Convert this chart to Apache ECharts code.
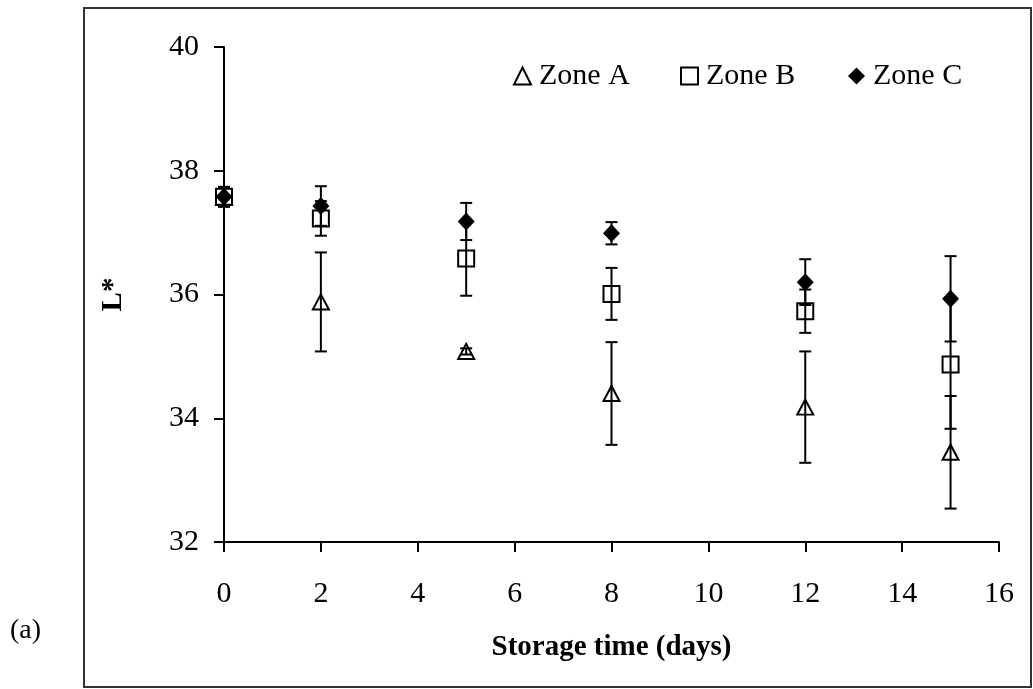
<!DOCTYPE html>
<html>
<head>
<meta charset="utf-8">
<script src="https://cdn.jsdelivr.net/npm/echarts@6/dist/echarts.min.js"></script>
<style>
html, body { margin: 0; padding: 0; background: #fff; }
#chart_main { width: 1033px; height: 689px; }
</style>
</head>
<body>
<div id="chart_main"></div>
<script>
// 储存时间（天）与各区 L* 均值、误差
const days = [0, 2, 5, 8, 12, 15]
const zoneA = [37.57, 35.88, 35.08, 34.40, 34.18, 33.45]
const zoneAErr = [0.15, 0.80, 0.05, 0.83, 0.90, 0.91]
const zoneB = [37.58, 37.23, 36.58, 36.01, 35.73, 34.87]
const zoneBErr = [0.15, 0.28, 0.60, 0.42, 0.35, 1.04]
const zoneC = [37.58, 37.43, 37.18, 36.99, 36.20, 35.93]
const zoneCErr = [0.16, 0.32, 0.30, 0.18, 0.37, 0.69]
const seriesNames = ['Zone A', 'Zone B', 'Zone C']

const font = 'Liberation Serif'

function pairs (ys) {
    return days.map((d, i) => [d, ys[i]])
}

// 误差线：竖线 + 上下短横
function errorSeries (ys, errs) {
    return {
        type: 'custom',
        z: 5,
        silent: true,
        data: days.map((d, i) => [d, ys[i] - errs[i], ys[i] + errs[i]]),
        renderItem: (params, api) => {
            const lo = api.coord([api.value(0), api.value(1)])
            const hi = api.coord([api.value(0), api.value(2)])
            const w = 6
            const style = { stroke: '#000', lineWidth: 2 }
            return {
                type: 'group',
                children: [
                    { type: 'line', shape: { x1: lo[0], y1: lo[1], x2: hi[0], y2: hi[1] }, style },
                    { type: 'line', shape: { x1: lo[0] - w, y1: lo[1], x2: lo[0] + w, y2: lo[1] }, style },
                    { type: 'line', shape: { x1: hi[0] - w, y1: hi[1], x2: hi[0] + w, y2: hi[1] }, style }
                ]
            }
        }
    }
}

// 图例各项单独定位
const legendLeft = [508, 675, 843]
const legends = seriesNames.map((name, i) => ({
    data: [name],
    left: legendLeft[i],
    top: 56,
    itemWidth: 17,
    itemHeight: 17,
    textStyle: { fontFamily: font, fontSize: 30, color: '#000', padding: [0, 0, 0, 3] }
}))

const myChart = echarts.init(document.getElementById('chart_main'))

const option = {
    animation: false,
    backgroundColor: '#fff',
    grid: { left: 224, right: 34, top: 47, bottom: 147 },
    legend: legends,
    xAxis: {
        type: 'value',
        min: 0,
        max: 16,
        interval: 2,
        name: 'Storage time (days)',
        nameLocation: 'middle',
        nameGap: 91,
        nameTextStyle: { fontFamily: font, fontSize: 29, fontWeight: 'bold', color: '#000' },
        axisLine: { show: true, lineStyle: { color: '#000', width: 2 } },
        axisTick: { show: true, length: 10, lineStyle: { color: '#000', width: 2 } },
        axisLabel: { margin: 37, fontFamily: font, fontSize: 30, color: '#000' },
        splitLine: { show: false }
    },
    yAxis: {
        type: 'value',
        min: 32,
        max: 40,
        interval: 2,
        name: 'L*',
        nameLocation: 'middle',
        nameRotate: 90,
        nameGap: 96,
        nameTextStyle: { fontFamily: font, fontSize: 29, fontWeight: 'bold', color: '#000' },
        axisLine: { show: true, lineStyle: { color: '#000', width: 2 } },
        axisTick: { show: true, length: 10, lineStyle: { color: '#000', width: 2 } },
        axisLabel: { margin: 25, fontFamily: font, fontSize: 30, color: '#000' },
        splitLine: { show: false }
    },
    graphic: [
        {
            type: 'rect',
            shape: { x: 84, y: 8, width: 947, height: 679 },
            style: { fill: 'none', stroke: '#333', lineWidth: 2 }
        },
        {
            type: 'text',
            left: 10,
            top: 617,
            style: { text: '(a)', fontFamily: font, fontSize: 28, fill: '#000' }
        }
    ],
    series: [
        {
            name: 'Zone A',
            type: 'scatter',
            symbol: 'triangle',
            symbolSize: [16, 15],
            itemStyle: { color: '#fff', borderColor: '#000', borderWidth: 2, opacity: 1 },
            data: pairs(zoneA)
        },
        {
            name: 'Zone B',
            type: 'scatter',
            symbol: 'rect',
            symbolSize: [16, 16],
            itemStyle: { color: '#fff', borderColor: '#000', borderWidth: 2, opacity: 1 },
            data: pairs(zoneB)
        },
        {
            name: 'Zone C',
            type: 'scatter',
            symbol: 'diamond',
            symbolSize: [17, 18],
            itemStyle: { color: '#000', opacity: 1 },
            data: pairs(zoneC)
        },
        errorSeries(zoneA, zoneAErr),
        errorSeries(zoneB, zoneBErr),
        errorSeries(zoneC, zoneCErr)
    ]
}

myChart.setOption(option)
window.addEventListener('resize', () => {
    myChart.resize()
})
</script>
</body>
</html>
